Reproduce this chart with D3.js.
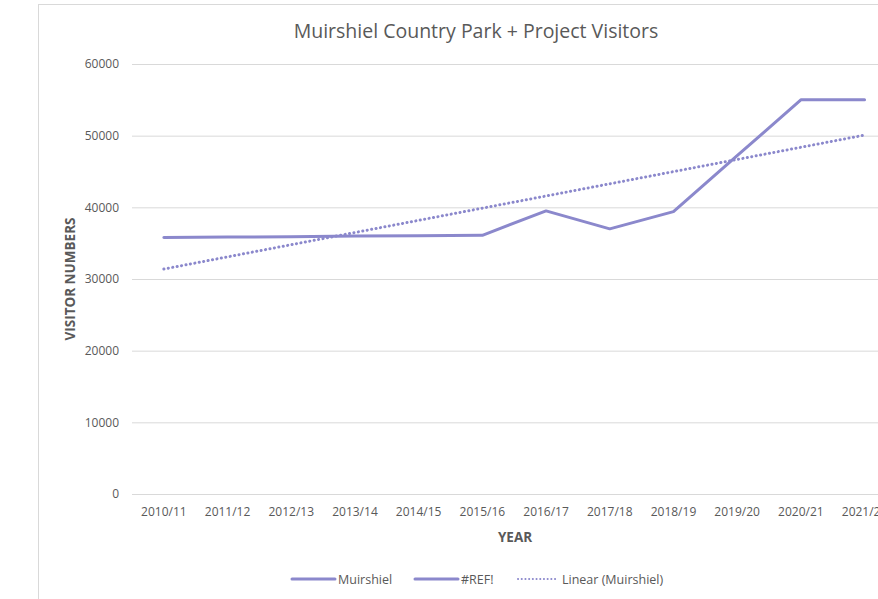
<!DOCTYPE html>
<html><head><meta charset="utf-8">
<script src="https://cdn.jsdelivr.net/npm/d3@7"></script>
<style>html,body{margin:0;padding:0;background:#fff;overflow:hidden}</style>
</head><body><svg id="c" width="878" height="599"></svg>
<script>
const categories = ["2010/11","2011/12","2012/13","2013/14","2014/15","2015/16","2016/17","2017/18","2018/19","2019/20","2020/21","2021/22"];
const muirshiel = [35800,35850,35900,36000,36050,36100,39500,37000,39400,47200,55000,55000];
const refSeries = [];
const yTicks = [0,10000,20000,30000,40000,50000,60000];
const legendLabels = ["Muirshiel","#REF!","Linear (Muirshiel)"];

const color = "#8B88CC";
const font = "'Open Sans', 'Liberation Sans', sans-serif";
const svg = d3.select("#c");
svg.append("rect").attr("x",38.5).attr("y",4.5).attr("width",900).attr("height",700)
  .attr("fill","#fff").attr("stroke","#d9d9d9");

const left = 132, bandW = 63.7;
const x = d3.scaleBand().domain(categories).range([left, left + bandW*categories.length]);
const y = d3.scaleLinear().domain([0,60000]).range([494,64]);
const cx = c => x(c) + x.bandwidth()/2;

// gridlines
svg.append("g").selectAll("line").data(yTicks).join("line")
  .attr("x1",left).attr("x2",left + bandW*categories.length)
  .attr("y1",d=>y(d)+0.5).attr("y2",d=>y(d)+0.5)
  .attr("stroke","#d9d9d9").attr("stroke-width",1);

// y axis labels
const yAxis = d3.axisLeft(y).tickValues(yTicks).tickSize(0).tickPadding(13).tickFormat(d3.format("d"));
const gy = svg.append("g").attr("transform",`translate(${left},0)`).call(yAxis);
gy.select(".domain").remove();
gy.selectAll("text").attr("font-family",font).attr("font-size",12).attr("fill","#595959");

// x axis labels
const xAxis = d3.axisBottom(x).tickSize(0).tickPadding(13);
const gx = svg.append("g").attr("transform",`translate(0,${y(0)})`).call(xAxis);
gx.select(".domain").remove();
gx.selectAll("text").attr("font-family",font).attr("font-size",12).attr("fill","#595959");

// trend (linear regression of Muirshiel)
const n = muirshiel.length;
const mx = d3.mean(d3.range(n)), my = d3.mean(muirshiel);
const slope = d3.sum(d3.range(n), i => (i-mx)*(muirshiel[i]-my)) / d3.sum(d3.range(n), i => (i-mx)*(i-mx));
const icpt = my - slope*mx;
const trend = categories.map((c,i)=>({c, v: icpt + slope*i}));

const line = d3.line().x(d=>cx(d.c)).y(d=>y(d.v));
svg.append("path").datum(trend).attr("d",line).attr("fill","none")
  .attr("stroke",color).attr("stroke-width",3).attr("stroke-dasharray","0.1 4.4").attr("stroke-linecap","round");
svg.append("path").datum(categories.map((c,i)=>({c, v: muirshiel[i]}))).attr("d",line)
  .attr("fill","none").attr("stroke",color).attr("stroke-width",3).attr("stroke-linejoin","round").attr("stroke-linecap","round");

// title
svg.append("text").attr("x",476).attr("y",38).attr("text-anchor","middle")
  .attr("font-family",font).attr("font-size",19.5).attr("fill","#595959").text("Muirshiel Country Park + Project Visitors");

// axis titles
svg.append("text").attr("x",515).attr("y",542).attr("text-anchor","middle")
  .attr("font-family",font).attr("font-size",13.5).attr("font-weight","bold").attr("fill","#595959").text("YEAR");
svg.append("text").attr("transform","translate(75,279) rotate(-90)").attr("text-anchor","middle")
  .attr("font-family",font).attr("font-size",13.5).attr("font-weight","bold").attr("fill","#595959").text("VISITOR NUMBERS");

// legend
const legX = [292, 415, 518], legLen = [43, 43, 39];
const lg = svg.append("g");
legendLabels.forEach((lab,i)=>{
  const l = lg.append("line").attr("x1",legX[i]).attr("x2",legX[i]+legLen[i]).attr("y1",579).attr("y2",579)
    .attr("stroke",color).attr("stroke-width", i===2?2:3).attr("stroke-linecap","round");
  if(i===2) l.attr("stroke-dasharray","0.1 3.6");
  lg.append("text").attr("x",legX[i]+legLen[i]+(i===2?5:3)).attr("y",583.5)
    .attr("font-family",font).attr("font-size",12.5).attr("fill","#595959").text(lab);
});
</script></body></html>
